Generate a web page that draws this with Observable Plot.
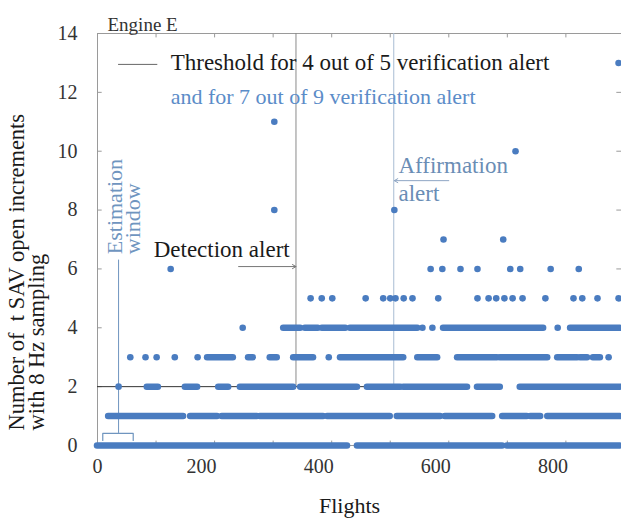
<!DOCTYPE html>
<html><head><meta charset="utf-8">
<script src="https://cdn.jsdelivr.net/npm/d3@7"></script>
<script src="https://cdn.jsdelivr.net/npm/@observablehq/plot@0.6"></script>
<style>body{margin:0;background:#fff;} svg{display:block;}</style>
</head><body><div id="chart"></div>
<script>
const title = "Engine E";
const xLabel = "Flights";
const yLabel1 = "Number of\u00a0\u00a0t SAV open increments";
const yLabel2 = "with 8 Hz sampling";
const legend1 = "Threshold for 4 out of 5 verification alert";
const legend2 = "and for 7 out of 9 verification alert";
const xTickLabels = [0, 200, 400, 600, 800];
const xMinorTicks = [100, 200, 300, 400, 500, 600, 700, 800];
const yTicks = [0, 2, 4, 6, 8, 10, 12, 14];
const threshold = 2;
const detectionFlight = 339;
const affirmationFlight = 506;
const estimationFlight = 36;
const estimationWindow = [9, 61];

// flight ranges with a constant count, per count level
const runs0 = [[0,427],[444,692],[700,893]];
const runs1 = [[19,147],[159,205],[213,273],[278,386],[393,500],[512,586],[594,675],[692,734],[740,757],[769,893]];
const runs2 = [[85,104],[150,171],[207,224],[244,335],[347,444],[461,518],[523,632],[649,688],[722,893]];
const runs3 = [[188,232],[258,266],[295,307],[335,369],[415,523],[547,581],[615,683],[688,769],[786,820],[825,837],[847,859]];
const runs4 = [[318,347],[355,377],[384,424],[432,547],[591,762],[808,893]];
// isolated flights, per count level
const dots2 = [36];
const dots3 = [56, 82, 101, 132, 171, 395, 873];
const dots4 = [248, 555, 572, 786];
const dots5 = [364, 383, 401, 458, 488, 500, 509, 523, 538, 582, 649, 668, 681, 695, 709, 726, 765, 813, 828, 854, 890];
const dots6 = [125, 569, 589, 620, 649, 705, 722, 774, 822];
const dots7 = [591, 693];
const dots8 = [302, 507];
const dots10 = [714];
const dots11 = [302];
const dots13 = [890];

const runRows = [[0,runs0],[1,runs1],[2,runs2],[3,runs3],[4,runs4]]
  .flatMap(([level, rs]) => rs.map(([a, b]) => ({level, x1: a, x2: b})));
const dotRows = [[2,dots2],[3,dots3],[4,dots4],[5,dots5],[6,dots6],[7,dots7],[8,dots8],[10,dots10],[11,dots11],[13,dots13]]
  .flatMap(([level, ds]) => ds.map(x => ({level, x})));

const blue = "#4a7cc0";
const serif = "Liberation Serif, Times New Roman, serif";

const chart = Plot.plot({
  width: 621,
  height: 523,
  marginLeft: 97,
  marginRight: 0,
  marginTop: 33,
  marginBottom: 78,
  x: {domain: [0, 895], axis: null},
  y: {domain: [0, 14], axis: null},
  style: {fontFamily: serif, background: "#fff"},
  marks: [
    Plot.frame({stroke: "#9a9a9a"}),
    Plot.ruleY(yTicks.slice(1, -1), {y: d => d, x1: 0, x2: 8, stroke: "#9a9a9a"}),
    Plot.ruleY(yTicks.slice(1, -1), {y: d => d, x1: 887, x2: 895, stroke: "#9a9a9a"}),
    Plot.ruleX(xMinorTicks, {x: d => d, y1: 14, y2: 13.85, stroke: "#9a9a9a"}),
    Plot.ruleX(xMinorTicks, {x: d => d, y1: 0, y2: 0.15, stroke: "#9a9a9a"}),
    // threshold and alert lines
    Plot.ruleY([threshold], {y: d => d, x1: 0, x2: affirmationFlight, stroke: "#333", strokeWidth: 1}),
    Plot.ruleX([detectionFlight], {x: d => d, y1: threshold, y2: 14, stroke: "#8a8a8a"}),
    Plot.ruleX([affirmationFlight], {x: d => d, y1: threshold, y2: 14, stroke: "#a9bdd3"}),
    // estimation window
    Plot.ruleX([estimationFlight], {x: d => d, y1: 0.41, y2: 6.3, stroke: "#6f95bf"}),
    Plot.line([[estimationWindow[0], 0.17], [estimationWindow[0], 0.41], [estimationWindow[1], 0.41], [estimationWindow[1], 0.17]],
      {x: d => d[0], y: d => d[1], stroke: "#6f95bf", strokeWidth: 1.2}),
    // data
    Plot.ruleY(runRows, {y: "level", x1: "x1", x2: "x2", stroke: blue, strokeWidth: 6.5, strokeLinecap: "round"}),
    Plot.dot(dotRows, {x: "x", y: "level", r: 3.3, fill: blue}),
    // legend
    Plot.ruleY([12.95], {y: d => d, x1: 36, x2: 103, stroke: "#666"}),
    Plot.text([legend1], {x: 125, y: 13.0, textAnchor: "start", fontSize: 23, fill: "#1a1a1a"}),
    Plot.text([legend2], {x: 125, y: 11.85, textAnchor: "start", fontSize: 22, fill: "#5b8cc8"}),
    // annotations
    Plot.text(["Estimation"], {x: 29, y: 6.5, rotate: -90, textAnchor: "start", fontSize: 22, fill: "#6f95bf"}),
    Plot.text(["window"], {x: 61, y: 6.5, rotate: -90, textAnchor: "start", fontSize: 22, fill: "#6f95bf"}),
    Plot.text(["Detection alert"], {x: 96, y: 6.66, textAnchor: "start", fontSize: 23, fill: "#1a1a1a"}),
    Plot.arrow([0], {x1: 241, y1: 6.08, x2: detectionFlight, y2: 6.08, stroke: "#777", headLength: 6, strokeWidth: 1}),
    Plot.text(["Affirmation"], {x: 514, y: 9.51, textAnchor: "start", fontSize: 23, fill: "#6a8db5"}),
    Plot.text(["alert"], {x: 514, y: 8.56, textAnchor: "start", fontSize: 23, fill: "#6a8db5"}),
    Plot.arrow([0], {x1: 600, y1: 9.0, x2: affirmationFlight + 1, y2: 9.0, stroke: "#8ea6c4", headLength: 6, strokeWidth: 1}),
    // axes text
    Plot.text(yTicks, {y: d => d, text: d => String(d), frameAnchor: "left", dx: -20, textAnchor: "end", fontSize: 20, fill: "#333"}),
    Plot.text(xTickLabels.slice(0, 1), {x: d => d, text: d => String(d), frameAnchor: "bottom", dy: 27, fontSize: 20, fill: "#333"}),
    Plot.text(xTickLabels.slice(1), {x: d => d, text: d => String(d), frameAnchor: "bottom", dx: -13, dy: 27, fontSize: 20, fill: "#333"}),
    Plot.text([xLabel], {frameAnchor: "bottom", dx: -10, dy: 67, fontSize: 22, fill: "#1a1a1a"}),
    Plot.text([yLabel1], {frameAnchor: "bottom-left", dx: -74, dy: -15, rotate: -90, textAnchor: "start", fontSize: 22.5, fill: "#1a1a1a"}),
    Plot.text([yLabel2], {frameAnchor: "bottom-left", dx: -54, dy: -15, rotate: -90, textAnchor: "start", fontSize: 22.5, fill: "#1a1a1a"}),
    Plot.text([title], {frameAnchor: "top-left", dx: 10, dy: -16, textAnchor: "start", fontSize: 19, fill: "#333"})
  ]
});
document.getElementById("chart").append(chart);
</script>
</body></html>
